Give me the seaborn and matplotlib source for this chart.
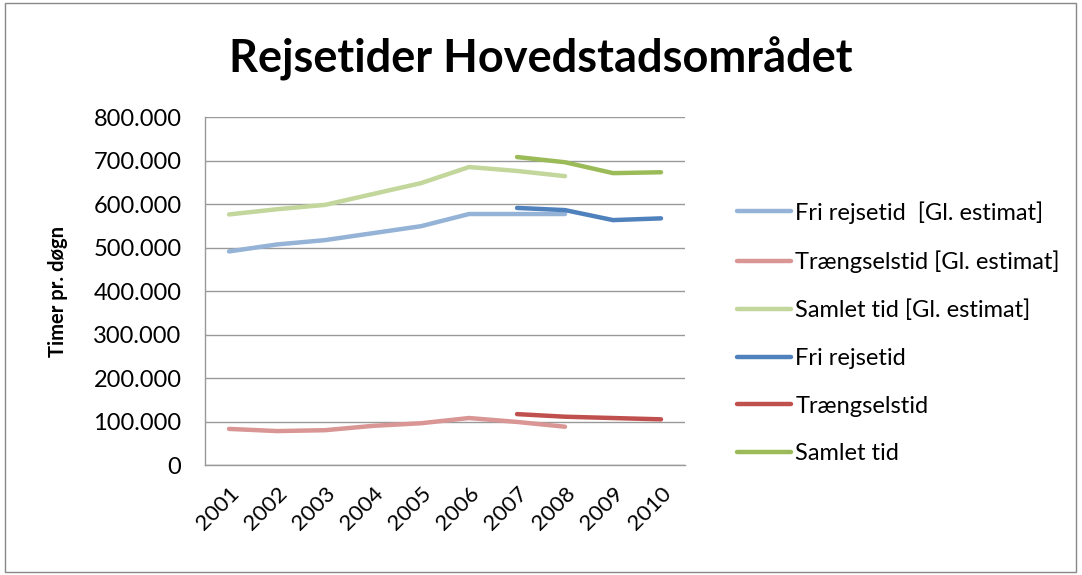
import pandas as pd
import seaborn as sns
import matplotlib.pyplot as plt
import matplotlib.ticker as mticker
from matplotlib.patches import Rectangle

# data
years = ['2001', '2002', '2003', '2004', '2005', '2006', '2007', '2008', '2009', '2010']
old_years = years[:8]
new_years = years[6:]

fri_old = [491000, 507000, 517000, 533000, 549000, 577000, 577000, 577000]
traengsel_old = [83000, 78000, 80000, 90000, 96000, 108000, 99000, 88000]
samlet_old = [576000, 588000, 598000, 623000, 648000, 685000, 676000, 664000]
fri_new = [591000, 586000, 563000, 567000]
traengsel_new = [117000, 111000, 108000, 105000]
samlet_new = [708000, 696000, 671000, 673000]

series_names = ['Fri rejsetid  [Gl. estimat]', 'Trængselstid [Gl. estimat]',
                'Samlet tid [Gl. estimat]', 'Fri rejsetid', 'Trængselstid', 'Samlet tid']
colors = ['#95B3D7', '#D99694', '#C3D69B', '#4F81BD', '#C0504D', '#9BBB59']

rows = []
for name, yrs, vals in zip(series_names,
                           [old_years, old_years, old_years, new_years, new_years, new_years],
                           [fri_old, traengsel_old, samlet_old, fri_new, traengsel_new, samlet_new]):
    for y, v in zip(yrs, vals):
        rows.append({'serie': name, 'x': years.index(y), 'value': v})
df = pd.DataFrame(rows)

sns.set_style('white')
plt.rcParams['font.family'] = ['Lato', 'DejaVu Sans']
plt.rcParams['text.color'] = 'black'
plt.rcParams['xtick.color'] = 'black'
plt.rcParams['ytick.color'] = 'black'
plt.rcParams['axes.labelcolor'] = 'black'

fig = plt.figure(figsize=(10.82, 5.75), dpi=100)
ax = fig.add_axes([0.1895, 0.1913, 0.4436, 0.6052])

sns.lineplot(data=df, x='x', y='value', hue='serie', hue_order=series_names,
             palette=colors, linewidth=3.2, ax=ax, legend=True)
for ln in ax.lines:
    ln.set_solid_capstyle('round')
    ln.set_solid_joinstyle('round')

ax.set_xlim(-0.5, 9.5)
ax.set_ylim(0, 800000)
ax.yaxis.set_major_locator(mticker.MultipleLocator(100000))
ax.yaxis.set_major_formatter(mticker.FuncFormatter(
    lambda v, p: '0' if v == 0 else f'{int(v):,}'.replace(',', '.')))
ax.grid(axis='y', color='#999999', linewidth=1)
ax.set_axisbelow(True)

ax.set_xticks(range(len(years)))
ax.set_xticklabels(years, rotation=45, ha='right', rotation_mode='anchor', fontsize=16)
ax.set_xticks([i - 0.5 for i in range(len(years) + 1)], minor=True)
ax.tick_params(axis='x', which='major', length=0, pad=13)
ax.tick_params(axis='x', which='minor', length=6, color='#999999', width=1)
ax.tick_params(axis='y', length=5, color='#999999', width=1, labelsize=17, pad=12,
               labelcolor='black')
ax.tick_params(axis='x', labelcolor='black')

for s in ['top', 'right']:
    ax.spines[s].set_visible(False)
for s in ['left', 'bottom']:
    ax.spines[s].set_color('#999999')
    ax.spines[s].set_linewidth(1)

ax.set_xlabel('')
ax.set_ylabel('Timer pr. døgn', fontsize=14.5, fontweight='bold', labelpad=18)

leg = ax.legend(loc='center left', bbox_to_anchor=(1.065, 0.38), frameon=False,
                fontsize=17, handlelength=2.25, handletextpad=0.2, labelspacing=1.13)
for h in leg.get_lines():
    h.set_linewidth(3.2)

fig.text(0.5, 0.898, 'Rejsetider Hovedstadsområdet', ha='center', va='center',
         fontsize=32.5, fontweight='bold', color='black')

fig.patches.append(Rectangle((0.005, 0.006), 0.989, 0.988, transform=fig.transFigure,
                             fill=False, edgecolor='#888888', linewidth=1))

fig.savefig('out.png', dpi=100, facecolor='white')
